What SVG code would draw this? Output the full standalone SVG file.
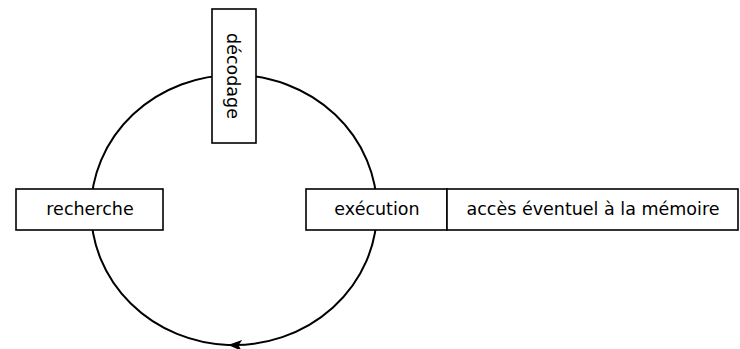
<svg xmlns="http://www.w3.org/2000/svg" width="740" height="349" viewBox="0 0 740 349">
<style>
.box{fill:#fff;stroke:#000;stroke-width:1.6}
.lbl{font-family:"DejaVu Sans","Liberation Sans",sans-serif;font-size:17.5px;fill:#000;text-anchor:middle;dominant-baseline:central}
.conn{fill:none;stroke:#000;stroke-width:2}
</style>
<defs>
<marker id="arr" markerWidth="16" markerHeight="12" refX="14" refY="6" orient="auto" markerUnits="userSpaceOnUse">
<path d="M0,0.5 L14,6 L0,11.5 L3.5,6 Z" fill="#000"/>
</marker>
</defs>
<rect width="740" height="349" fill="#fff"/>
<g id="connectors">
<path class="conn" d="M 91 210 A 143 135 0 0 1 377 210 A 143 135 0 0 1 228 344.9" marker-end="url(#arr)"/>
<path class="conn" d="M 228 344.9 A 143 135 0 0 1 91 210"/>
</g>
<g id="decodage">
<rect class="box" x="212" y="9" width="44" height="134"/>
<text class="lbl" transform="translate(233,76) rotate(90)" x="0" y="0">décodage</text>
</g>
<g id="recherche">
<rect class="box" x="16" y="189" width="147" height="41"/>
<text class="lbl" x="90" y="209">recherche</text>
</g>
<g id="execution">
<rect class="box" x="306" y="189" width="141" height="41"/>
<text class="lbl" x="377" y="209">exécution</text>
</g>
<g id="acces">
<rect class="box" x="447" y="189" width="291" height="41"/>
<text class="lbl" x="593" y="209">accès éventuel à la mémoire</text>
</g>
</svg>
